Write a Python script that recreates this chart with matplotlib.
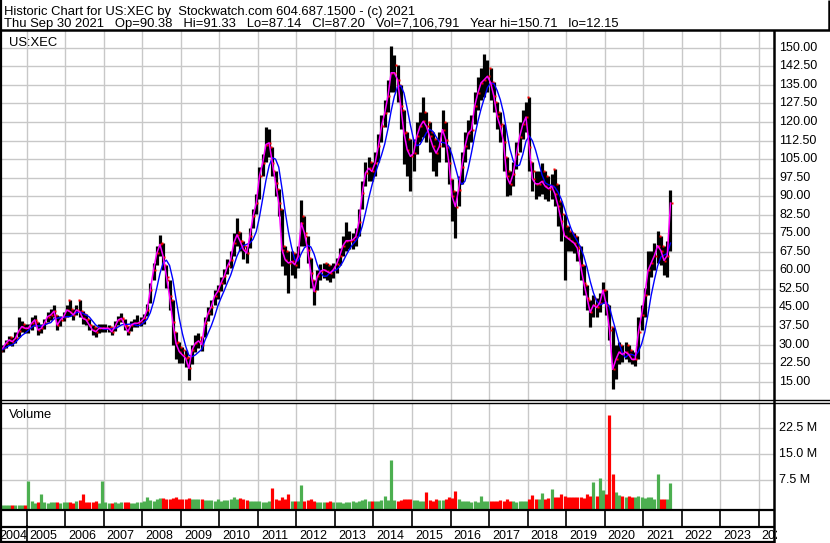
import matplotlib
matplotlib.use("Agg")
import matplotlib.pyplot as plt
from matplotlib.lines import Line2D
from matplotlib.transforms import Bbox, TransformedBbox, blended_transform_factory
import numpy as np
import pandas as pd

plt.rcParams['font.family'] = ['Liberation Sans', 'DejaVu Sans']

# ---------------- data (monthly, Apr 2004 .. Sep 2021) ----------------
start_year, start_month = 2004, 4

close = [
    27.5, 28.5, 30.5, 31.9, 31.2, 32.5, 35.5, 37.3, 36.6,                       # 2004 Apr-Dec
    36.6, 38.6, 40.0, 35.9, 36.6, 38.6, 41.3, 42.0, 43.5, 37.9, 40.0, 41.3,     # 2005
    44.0, 43.3, 42.0, 44.0, 43.3, 40.6, 40.0, 37.9, 35.9, 35.2, 36.6, 36.6,     # 2006
    36.6, 36.6, 35.2, 37.3, 40.0, 40.6, 37.9, 35.2, 37.9, 38.6, 38.6, 39.3,     # 2007
    40.6, 44.0, 52.1, 60.2, 66.9, 70.5, 65.6, 57.5, 49.5, 39.0, 30.5, 27.2,     # 2008
    25.8, 24.5, 20.4, 27.8, 30.5, 31.5, 30.0, 38.6, 42.7, 45.4, 49.5, 51.5,     # 2009
    54.9, 57.6, 61.6, 64.3, 71.1, 74.4, 71.7, 68.4, 67.0, 73.8, 81.9, 87.3,     # 2010
    98.1, 103.5, 110.9, 111.6, 103.5, 95.4, 87.3, 68.4, 64.3, 63.0, 63.6, 62.3, # 2011
    65.7, 79.2, 75.1, 68.4, 58.9, 51.5, 57.6, 59.6, 60.3, 59.6, 58.9, 60.3,     # 2012
    62.5, 66.0, 70.0, 72.0, 72.0, 72.3, 73.6, 79.7, 91.2, 99.3, 101.3, 100.0,   # 2013
    103.4, 110.1, 118.2, 123.6, 130.4, 139.9, 139.9, 137.1, 126.3, 115.5, 108.8, 106.1,  # 2014
    107.4, 114.2, 118.2, 120.3, 118.2, 114.2, 110.1, 107.4, 110.1, 116.9, 112.8, 103.4,  # 2015
    89.9, 85.8, 92.6, 102.0, 110.1, 115.5, 116.9, 126.3, 131.7, 135.8, 137.1, 138.5,     # 2016
    135.8, 130.4, 122.3, 118.2, 112.0, 98.0, 95.0, 99.0, 107.0, 114.0, 119.0, 122.0,     # 2017
    110.0, 97.0, 95.0, 95.0, 96.0, 94.0, 93.0, 94.0, 91.0, 86.0, 80.0, 74.0,    # 2018
    73.0, 72.0, 71.0, 69.0, 62.0, 55.0, 49.0, 43.0, 46.0, 45.0, 47.0, 52.0,     # 2019
    46.0, 36.0, 20.0, 24.0, 27.0, 26.0, 27.0, 26.0, 24.0, 24.0, 35.0, 42.0,     # 2020
    50.0, 60.0, 63.0, 66.0, 70.0, 68.0, 64.0, 66.0, 87.2,                       # 2021 Jan-Sep
]

high = [
    29.0, 30.0, 32.0, 33.5, 33.0, 35.0, 41.0, 39.5, 38.5,
    38.5, 41.0, 42.0, 39.0, 38.5, 40.5, 43.0, 44.5, 46.0, 42.0, 41.5, 43.0,
    46.0, 48.0, 44.5, 46.0, 48.0, 43.5, 42.5, 40.5, 38.0, 37.0, 38.5, 38.5,
    38.5, 38.0, 37.0, 39.5, 41.5, 42.7, 40.5, 37.5, 39.5, 40.5, 42.0, 41.0,
    42.5, 46.5, 55.0, 63.0, 70.0, 74.4, 71.0, 62.0, 56.0, 48.0, 35.0, 31.0,
    29.0, 28.0, 25.0, 30.0, 34.0, 34.5, 33.0, 41.0, 45.0, 48.0, 52.0, 54.0,
    57.5, 60.5, 64.5, 68.0, 75.0, 81.0, 75.5, 72.0, 70.0, 77.0, 85.0, 91.0,
    102.0, 107.0, 118.0, 117.0, 110.0, 100.0, 93.0, 85.0, 70.0, 68.0, 68.0, 67.0,
    70.0, 88.6, 82.0, 74.0, 65.0, 56.0, 60.0, 62.5, 63.0, 63.0, 62.0, 63.0,
    65.0, 69.0, 74.0, 79.5, 76.0, 75.0, 77.0, 85.0, 96.0, 104.0, 106.0, 104.0,
    108.0, 115.0, 123.0, 129.0, 137.0, 150.7, 147.0, 143.0, 135.0, 125.0, 116.0, 113.0,
    113.0, 120.0, 124.0, 130.0, 124.0, 120.0, 116.0, 113.0, 116.0, 125.0, 120.0, 110.0,
    97.0, 92.0, 98.0, 108.0, 116.0, 121.0, 123.0, 132.0, 138.0, 142.0, 147.3, 145.0,
    142.0, 136.0, 128.0, 124.0, 119.0, 106.0, 100.0, 104.0, 112.0, 120.0, 125.0, 128.0,
    130.0, 104.0, 100.0, 100.0, 103.5, 100.0, 98.0, 99.0, 100.8, 95.0, 88.0, 83.0,
    78.0, 76.0, 75.0, 74.0, 70.0, 62.0, 54.0, 48.0, 50.0, 49.0, 51.0, 55.5,
    52.0, 46.0, 37.0, 30.0, 31.0, 30.0, 31.0, 30.0, 28.0, 27.0, 41.0, 46.0,
    53.0, 68.0, 68.0, 71.0, 75.8, 74.0, 70.0, 72.0, 92.7,
]

low = [
    26.0, 27.0, 28.5, 30.0, 29.5, 30.5, 33.0, 35.0, 34.5,
    34.5, 36.0, 37.5, 34.0, 34.5, 36.5, 39.0, 40.0, 41.0, 36.0, 37.5, 39.5,
    41.0, 41.5, 40.0, 42.0, 41.0, 38.5, 38.0, 36.0, 34.0, 33.0, 34.5, 35.0,
    35.0, 35.0, 34.0, 35.5, 38.0, 39.0, 36.0, 34.0, 35.5, 37.0, 37.0, 37.5,
    38.5, 41.5, 47.0, 56.0, 62.0, 66.0, 60.0, 53.0, 44.0, 30.0, 24.0, 22.5,
    22.5, 21.0, 15.7, 22.0, 27.0, 28.5, 27.5, 33.0, 39.5, 42.0, 46.0, 48.5,
    51.5, 54.5, 58.5, 61.0, 66.0, 70.0, 68.0, 64.5, 63.0, 69.0, 77.0, 83.0,
    89.0, 98.0, 104.0, 106.0, 98.0, 90.0, 82.0, 61.6, 58.0, 50.8, 58.0, 57.0,
    61.0, 70.0, 70.0, 63.0, 53.0, 46.0, 52.0, 56.0, 57.0, 56.0, 55.5, 57.0,
    59.0, 62.0, 66.0, 68.0, 68.5, 68.5, 70.0, 74.0, 85.0, 94.0, 96.0, 96.0,
    98.0, 104.0, 112.0, 118.0, 124.0, 132.0, 132.0, 128.0, 117.0, 103.0, 98.0, 91.9,
    100.0, 107.0, 112.0, 114.0, 112.0, 108.0, 100.0, 98.0, 104.0, 110.0, 104.0, 95.0,
    80.0, 73.0, 86.0, 95.0, 104.0, 109.0, 112.0, 119.0, 125.0, 129.0, 130.0, 132.0,
    129.0, 124.0, 117.0, 112.0, 100.0, 89.9, 90.5, 94.0, 101.0, 108.0, 113.0, 116.0,
    100.0, 92.0, 89.0, 90.0, 91.0, 89.0, 88.0, 89.0, 86.0, 78.0, 72.0, 56.2,
    68.0, 68.0, 67.0, 64.0, 56.0, 50.0, 44.0, 37.2, 41.0, 41.0, 43.0, 47.0,
    42.0, 32.0, 12.15, 16.0, 22.0, 23.0, 24.0, 23.0, 22.0, 21.5, 24.0, 36.0,
    41.0, 50.0, 57.5, 60.0, 63.0, 62.0, 58.0, 57.5, 68.0,
]

volume_m = [
    0.3, 0.3, 0.3, 0.3, 0.3, 0.3, 0.3, 0.35, 0.4,
    7.3, 1.5, 1.0, 1.2, 3.5, 1.2, 1.0, 1.2, 1.3, 1.2, 1.0, 1.2,
    1.3, 1.2, 1.0, 1.4, 1.8, 3.6, 1.2, 1.1, 1.2, 1.5, 1.0, 7.3,
    1.2, 1.0, 1.0, 1.2, 1.0, 1.3, 1.1, 1.3, 1.0, 1.0, 1.1, 1.2,
    1.5, 2.6, 1.8, 1.6, 2.0, 2.3, 2.4, 2.2, 2.0, 2.3, 2.6, 2.0,
    2.0, 2.2, 2.3, 2.0, 2.2, 2.0, 2.0, 1.8, 1.8, 1.7, 1.6, 2.0,
    1.6, 1.7, 1.8, 2.2, 2.6, 2.0, 2.5, 2.0, 1.7, 1.5, 1.6, 1.4,
    1.4, 1.3, 1.2, 1.5, 5.2, 2.0, 1.8, 2.6, 2.0, 3.5, 1.6, 1.5,
    1.5, 6.1, 1.6, 1.8, 2.0, 1.5, 1.3, 1.2, 1.2, 1.3, 1.4, 1.2,
    1.1, 1.2, 1.0, 1.2, 1.2, 1.4, 1.2, 1.5, 1.7, 2.1, 1.6, 1.6,
    1.6, 1.5, 1.8, 3.0, 1.8, 13.4, 1.8, 1.6, 1.8, 2.0, 2.0, 2.0,
    1.8, 1.8, 1.6, 1.6, 4.0, 1.8, 1.6, 2.0, 1.8, 1.8, 2.2, 2.8,
    2.4, 4.4, 2.0, 1.6, 1.6, 1.4, 1.3, 1.4, 1.3, 3.1, 1.5, 1.4,
    1.6, 1.4, 1.6, 1.8, 1.6, 2.0, 1.6, 1.4, 1.3, 1.4, 1.5, 1.6,
    2.0, 3.3, 2.2, 2.0, 3.8, 2.2, 2.4, 5.0, 2.6, 2.8, 3.5, 3.0,
    2.8, 2.6, 2.8, 2.8, 2.6, 2.4, 3.5, 3.0, 6.9, 3.0, 8.1, 4.7,
    3.5, 26.3, 9.3, 4.0, 3.2, 3.0, 2.8, 3.0, 2.6, 2.8, 3.0, 2.6,
    2.4, 2.6, 2.6, 2.2, 9.3, 2.2, 2.0, 2.2, 6.6,
]

price_ticks = [15.0, 22.5, 30.0, 37.5, 45.0, 52.5, 60.0, 67.5, 75.0, 82.5,
               90.0, 97.5, 105.0, 112.5, 120.0, 127.5, 135.0, 142.5, 150.0]
vol_ticks_m = [7.5, 15.0, 22.5]
years = list(range(2004, 2025))

header1 = "Historic Chart for US:XEC by  Stockwatch.com 604.687.1500 - (c) 2021"
header2 = ("Thu Sep 30 2021   Op=90.38   Hi=91.33   Lo=87.14   Cl=87.20   "
           "Vol=7,106,791   Year hi=150.71   lo=12.15")

# ---------------- derived ----------------
n = len(close)
months = pd.period_range(start=f"{start_year}-{start_month:02d}", periods=n, freq="M")
t = np.array([p.year + (p.month - 0.5) / 12.0 for p in months])
cl = pd.Series(close)
ma_fast = cl.values
ma_slow = cl.rolling(5, min_periods=1).mean().values
vol = np.array(volume_m) * 1e6
up = np.r_[True, np.diff(close) >= 0]
down = ~up

# ---------------- layout (pixels) ----------------
W, H = 830, 543
fig = plt.figure(figsize=(W / 100, H / 100), dpi=100)
fig.patch.set_facecolor("white")

def fx(px):
    return px / W

def fy(py):
    return 1 - py / H

PLOT_R = 774
PX_PER_YEAR = 38.53
x_left = 2005 + (0 - 26.7) / PX_PER_YEAR
x_right = 2005 + (PLOT_R - 26.7) / PX_PER_YEAR

ax_p = fig.add_axes([0, fy(400), fx(PLOT_R), (400 - 31) / H])
ax_v = fig.add_axes([0, fy(510), fx(PLOT_R), (510 - 402.5) / H])
ax_d = fig.add_axes([0, fy(542), fx(PLOT_R), (542 - 510) / H])

grid_c = "#c8c8c8"
for ax in (ax_p, ax_v, ax_d):
    ax.set_xlim(x_left, x_right)
    ax.set_axis_off()

ax_p.set_ylim(7.60, 156.79)
vol_lo, vol_hi = -1.07e6, 29.94e6
ax_v.set_ylim(vol_lo, vol_hi)
ax_d.set_ylim(0, 1)

# grids and year separators
for y in years[1:]:
    ax_p.axvline(y, color=grid_c, lw=1.0, zorder=0)
    ax_v.axvline(y, color=grid_c, lw=1.0, zorder=0)
    ax_d.axvline(y, ymin=0.5, ymax=1.0, color="black", lw=1.2, zorder=1)
ax_d.axvline(years[1], ymin=0.0, ymax=0.5, color="black", lw=1.2, zorder=1)
for v in price_ticks:
    ax_p.axhline(v, color=grid_c, lw=1.0, zorder=0)
for v in vol_ticks_m:
    ax_v.axhline(v * 1e6, color=grid_c, lw=1.0, zorder=0)

# price bars
ax_p.vlines(t, low, high, color="black", lw=2.3, zorder=2)
ax_p.plot(t + 0.03, close, ls="none", marker="s", ms=1.5, mec="none",
          mfc="red", zorder=3)
ax_p.plot(t[down] - 0.03, np.array(high)[down], ls="none", marker="s", ms=1.5,
          mec="none", mfc="red", zorder=3)
ax_p.plot(t, ma_slow, color="#0000ff", lw=1.0, zorder=4)
ax_p.plot(t, ma_fast, color="#ff00ff", lw=1.1, zorder=5)

# volume bars
ax_v.vlines(t[up], vol_lo, vol[up], color="#4caf50", lw=2.3, zorder=2)
ax_v.vlines(t[down], vol_lo, vol[down], color="#ff0000", lw=2.3, zorder=2)

# right-hand labels
tr_p = blended_transform_factory(ax_p.transAxes, ax_p.transData)
for v in price_ticks:
    ax_p.text(779 / PLOT_R, v, f"{v:.2f}", transform=tr_p, ha="left",
              va="center", fontsize=9, clip_on=False)
tr_v = blended_transform_factory(ax_v.transAxes, ax_v.transData)
for v in vol_ticks_m:
    ax_v.text(779 / PLOT_R, v * 1e6, f"{v:.1f} M", transform=tr_v, ha="left",
              va="center", fontsize=9, clip_on=False)

# year labels
clip = TransformedBbox(Bbox.from_extents(fx(0), fy(543), fx(777), fy(527)),
                       fig.transFigure)
for y in years:
    xpos = y + 3 / PX_PER_YEAR if y > 2004 else x_left - 1 / PX_PER_YEAR
    tx = ax_d.text(xpos, (542 - 539) / 32, str(y), ha="left", va="baseline",
                   fontsize=9, clip_on=True)
    tx.set_clip_box(clip)

# panel captions
ax_p.text(9 / PLOT_R, 1 - (45.5 - 31) / 369, "US:XEC", transform=ax_p.transAxes,
          ha="left", va="baseline", fontsize=9.4)
ax_v.text(9 / PLOT_R, 1 - (417.5 - 402.5) / 107.5, "Volume", transform=ax_v.transAxes,
          ha="left", va="baseline", fontsize=9.4)

# header
fig.text(fx(4), fy(15), header1, ha="left", va="baseline", fontsize=9.4)
fig.text(fx(4), fy(27.5), header2, ha="left", va="baseline", fontsize=9.4)

# frame lines
def hline(py, x0, x1, lw):
    fig.add_artist(Line2D([fx(x0), fx(x1)], [fy(py), fy(py)], color="black",
                          lw=lw, transform=fig.transFigure, solid_capstyle="butt"))

def vline(px, y0, y1, lw):
    fig.add_artist(Line2D([fx(px), fx(px)], [fy(y0), fy(y1)], color="black",
                          lw=lw, transform=fig.transFigure, solid_capstyle="butt"))

hline(30, 0, W, 1.8)
hline(400, 0, W, 1.0)
hline(402.5, 0, W, 1.0)
hline(510, 0, PLOT_R, 1.6)
hline(527, 0, PLOT_R, 1.6)
hline(541.8, 0, PLOT_R, 1.6)
vline(1, 0, H, 1.6)
vline(PLOT_R, 30, H, 1.8)
vline(828.5, 0, 30, 1.8)

fig.savefig("out.png", dpi=100, facecolor="white")
